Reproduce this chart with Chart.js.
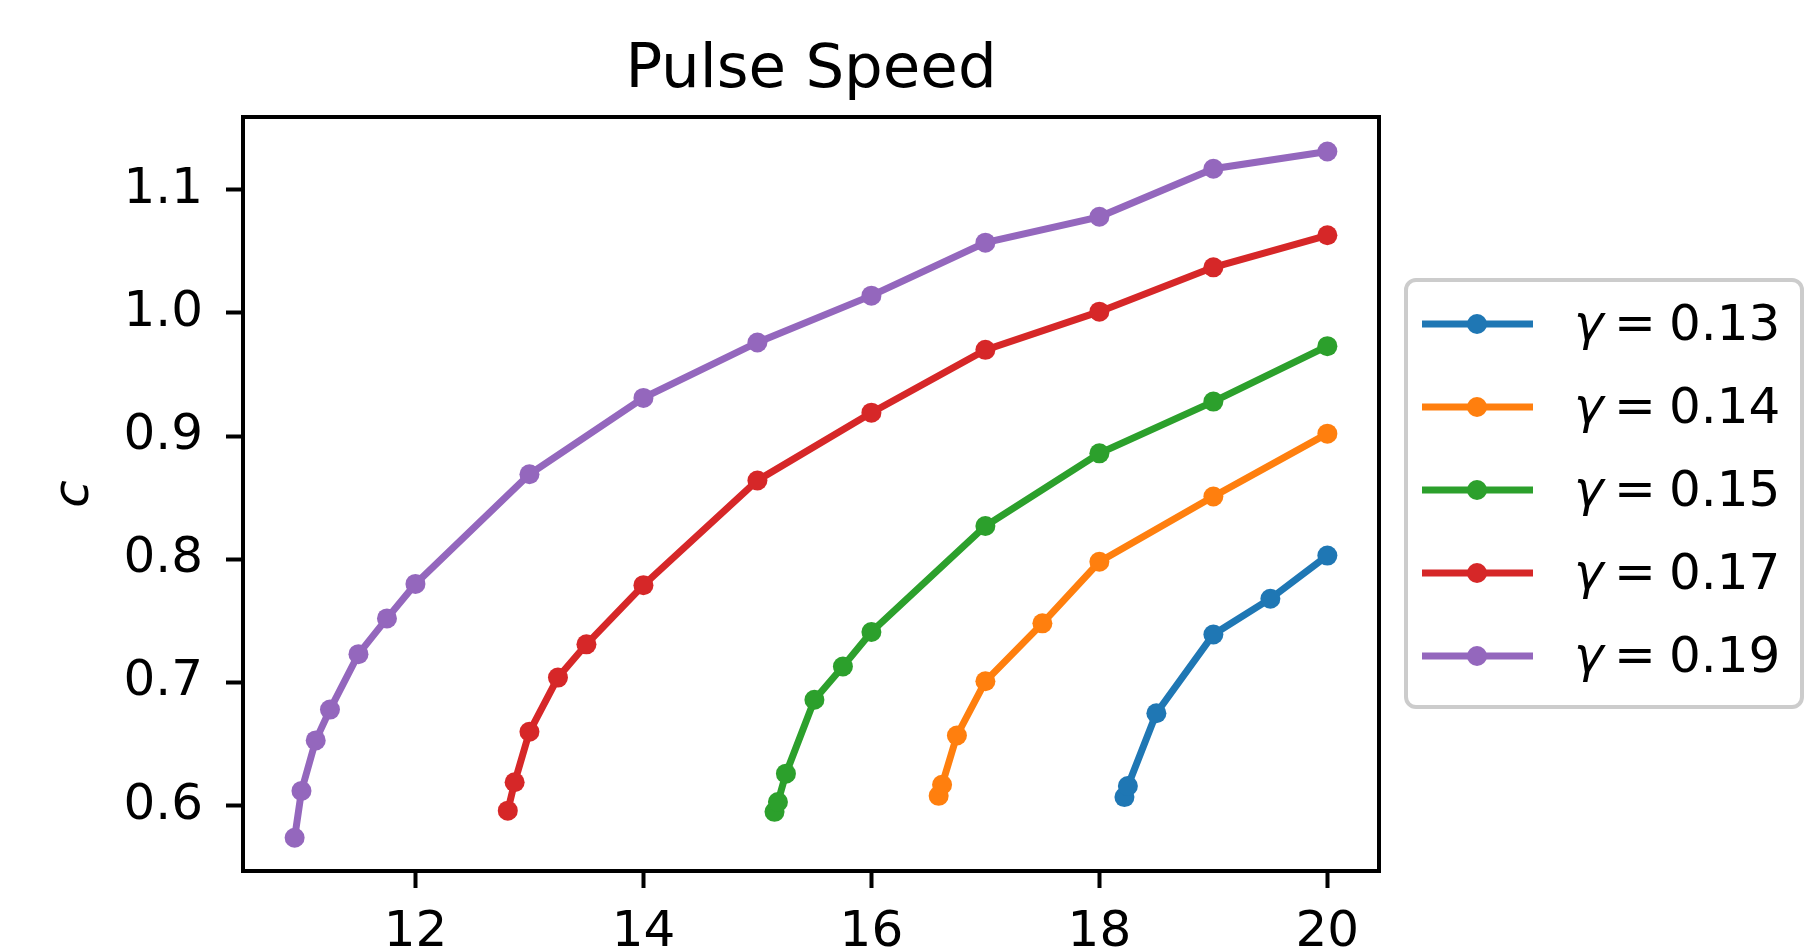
<!DOCTYPE html>
<html>
<head>
<meta charset="utf-8">
<title>Pulse Speed</title>
<script src="https://cdn.jsdelivr.net/npm/chart.js@4.4.1/dist/chart.umd.min.js"></script>
<style>
  html, body { margin: 0; padding: 0; background: #fff; }
</style>
</head>
<body>
<canvas id="chart" width="1805" height="949"></canvas>
<script>
// Pulse speed c against x for several gamma values

const gammas = ['0.13', '0.14', '0.15', '0.17', '0.19'];

const blueX = [18.22, 18.25, 18.5, 19, 19.5, 20];
const blueY = [0.607, 0.616, 0.675, 0.739, 0.768, 0.803];

const orangeX = [16.59, 16.62, 16.75, 17, 17.5, 18, 19, 20];
const orangeY = [0.608, 0.617, 0.657, 0.701, 0.748, 0.798, 0.851, 0.902];

const greenX = [15.15, 15.18, 15.25, 15.5, 15.75, 16, 17, 18, 19, 20];
const greenY = [0.595, 0.603, 0.626, 0.686, 0.713, 0.741, 0.827, 0.886, 0.928, 0.973];

const redX = [12.81, 12.87, 13, 13.25, 13.5, 14, 15, 16, 17, 18, 19, 20];
const redY = [0.596, 0.619, 0.660, 0.704, 0.731, 0.779, 0.864, 0.919, 0.970, 1.001, 1.037, 1.063];

const purpleX = [10.94, 11.0, 11.125, 11.25, 11.5, 11.75, 12, 13, 14, 15, 16, 17, 18, 19, 20];
const purpleY = [0.574, 0.612, 0.653, 0.678, 0.723, 0.752, 0.780, 0.869, 0.931, 0.976, 1.014, 1.057, 1.078, 1.117, 1.131];

const xTicks = [12, 14, 16, 18, 20];
const yTicks = [0.6, 0.7, 0.8, 0.9, 1.0, 1.1];
const xLimits = [10.487, 20.453];
const yLimits = [0.547, 1.159];

const colors = ['#1f77b4', '#ff7f0e', '#2ca02c', '#d62728', '#9467bd'];
const FONT = 'DejaVu Sans';

const seriesX = [blueX, orangeX, greenX, redX, purpleX];
const seriesY = [blueY, orangeY, greenY, redY, purpleY];

// turn the x/y lists into point objects
function toPoints(xs, ys) {
  return xs.map((x, i) => ({ x, y: ys[i] }));
}

const datasets = gammas.map((g, i) => ({
  label: g,
  data: toPoints(seriesX[i], seriesY[i]),
  borderColor: colors[i],
  backgroundColor: colors[i],
  borderWidth: 7,
  pointRadius: 10,
  pointBorderWidth: 0,
  pointBackgroundColor: colors[i],
  showLine: true,
  fill: false,
  tension: 0,
  order: gammas.length - i
}));

// black box round the plot area (all four spines)
const frame = {
  id: 'frame',
  afterDatasetsDraw(chart) {
    const { ctx, chartArea: a } = chart;
    ctx.save();
    ctx.lineWidth = 4;
    ctx.strokeStyle = '#000';
    ctx.strokeRect(a.left, a.top, a.right - a.left, a.bottom - a.top);
    ctx.restore();
  }
};

// matplotlib-like legend with line + marker handles
const legendBox = {
  id: 'legendBox',
  afterDraw(chart) {
    const ctx = chart.ctx;
    ctx.save();
    ctx.beginPath();
    ctx.roundRect(1406, 280, 396, 427, 10);
    ctx.fillStyle = 'rgba(255,255,255,0.8)';
    ctx.fill();
    ctx.lineWidth = 4;
    ctx.strokeStyle = '#cccccc';
    ctx.stroke();

    chart.data.datasets.forEach((ds, i) => {
      const y = 324 + i * 83;
      ctx.beginPath();
      ctx.moveTo(1422, y);
      ctx.lineTo(1533, y);
      ctx.lineWidth = 7;
      ctx.strokeStyle = ds.borderColor;
      ctx.stroke();
      ctx.beginPath();
      ctx.arc(1477, y, 10, 0, Math.PI * 2);
      ctx.fillStyle = ds.borderColor;
      ctx.fill();

      ctx.fillStyle = '#000';
      ctx.textBaseline = 'alphabetic';
      ctx.textAlign = 'left';
      ctx.font = `italic 50px "${FONT}"`;
      ctx.fillText('γ', 1574, y + 16);
      ctx.font = `50px "${FONT}"`;
      ctx.fillText('=', 1614, y + 16);
      ctx.fillText(ds.label, 1669, y + 16);
    });
    ctx.restore();
  }
};

const tickGrid = {
  display: true,
  drawOnChartArea: false,
  drawTicks: true,
  tickLength: 17,
  tickWidth: 4,
  tickColor: '#000'
};

const ctx = document.getElementById('chart').getContext('2d');
new Chart(ctx, {
  type: 'line',
  data: { datasets },
  plugins: [frame, legendBox],
  options: {
    responsive: false,
    animation: false,
    layout: { padding: { left: 0, top: 0, right: 426, bottom: 0 } },
    plugins: {
      legend: { display: false },
      tooltip: { enabled: false },
      title: {
        display: true,
        text: 'Pulse Speed',
        fullSize: false,
        color: '#000',
        font: { family: FONT, size: 61, weight: 'normal', lineHeight: 1.2 },
        padding: { top: 35, bottom: 8.8 }
      }
    },
    scales: {
      x: {
        type: 'linear',
        min: xLimits[0],
        max: xLimits[1],
        afterBuildTicks: (scale) => { scale.ticks = xTicks.map(v => ({ value: v })); },
        afterFit: (scale) => { scale.height = 78; },
        border: { display: false },
        grid: tickGrid,
        ticks: {
          color: '#000',
          padding: 15,
          maxRotation: 0,
          font: { family: FONT, size: 50 },
          callback: (v) => String(v)
        }
      },
      y: {
        type: 'linear',
        min: yLimits[0],
        max: yLimits[1],
        afterBuildTicks: (scale) => { scale.ticks = yTicks.map(v => ({ value: v })); },
        afterFit: (scale) => { scale.width = 243; },
        border: { display: false },
        grid: tickGrid,
        title: {
          display: true,
          text: 'c',
          color: '#000',
          font: { family: FONT, size: 50, style: 'italic', lineHeight: 1.2 },
          padding: { top: 45, bottom: 0 }
        },
        ticks: {
          color: '#000',
          padding: 23,
          font: { family: FONT, size: 50 },
          callback: (v) => Number(v).toFixed(1)
        }
      }
    }
  }
});
</script>
</body>
</html>
